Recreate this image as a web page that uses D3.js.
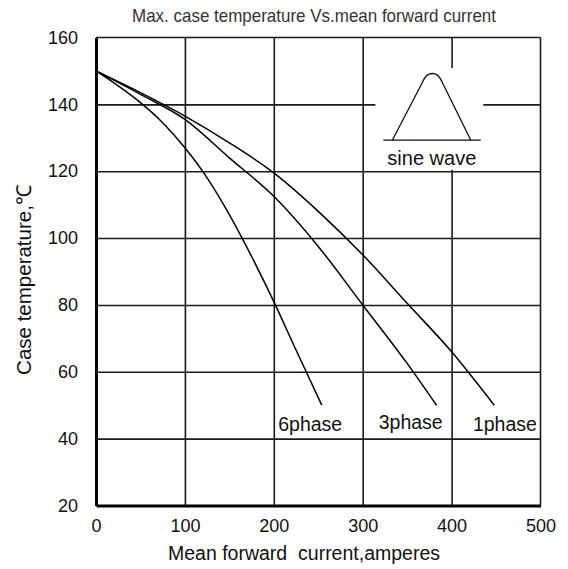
<!DOCTYPE html>
<html>
<head>
<meta charset="utf-8">
<script src="https://cdn.jsdelivr.net/npm/d3@7"></script>
<style>
  body { margin: 0; background: #fff; }
  svg { display: block; }
  text { font-family: "Liberation Sans", Arial, sans-serif; }
</style>
</head>
<body>
<svg id="chart" width="568" height="569"></svg>
<script>
// Axis ticks
const xTicks = [0, 100, 200, 300, 400, 500];
const yTicks = [20, 40, 60, 80, 100, 120, 140, 160];

// Derating curves: mean forward current (A) vs max case temperature (°C)
const current1 = [0, 50, 100, 150, 200, 250, 300, 350, 400, 448];
const temp1    = [150, 143.5, 136.5, 128.5, 119.5, 108, 95, 80.5, 66, 50];
const current3 = [0, 50, 100, 150, 200, 250, 300, 350, 383];
const temp3    = [150, 143, 135.5, 124, 112.5, 97.5, 80, 62.5, 50];
const current6 = [0, 25, 50, 75, 100, 125, 150, 175, 200, 225, 254];
const temp6    = [150, 145.5, 140.5, 134.5, 127, 118, 107, 94.5, 81, 66.5, 50];
const seriesNames = ["1phase", "3phase", "6phase"];

const W = 568, H = 569;
const m = { left: 96, right: 27.5, top: 37.5, bottom: 63.5 };
const svg = d3.select("#chart");

const x = d3.scaleLinear().domain([0, 500]).range([m.left, W - m.right]);
const y = d3.scaleLinear().domain([20, 160]).range([H - m.bottom, m.top]);

// grid
const grid = svg.append("g");
grid.append("g")
  .attr("transform", `translate(0,${m.top})`)
  .call(d3.axisBottom(x).tickValues(xTicks.slice(1, -1)).tickSize(y(20) - m.top).tickFormat(""))
  .call(g => g.select(".domain").remove())
  .selectAll("line").attr("stroke", "#1a1a1a").attr("stroke-width", 1.6);
grid.append("g")
  .attr("transform", `translate(${m.left},0)`)
  .call(d3.axisRight(y).tickValues(yTicks.slice(1, -1)).tickSize(x(500) - m.left).tickFormat(""))
  .call(g => g.select(".domain").remove())
  .selectAll("line").attr("stroke", "#1a1a1a").attr("stroke-width", 1.6);

// frame: top/right thin, left/bottom heavy
svg.append("line").attr("x1", x(0)).attr("x2", x(500)).attr("y1", y(160)).attr("y2", y(160))
  .attr("stroke", "#1a1a1a").attr("stroke-width", 1.6);
svg.append("line").attr("x1", x(500)).attr("x2", x(500)).attr("y1", y(160)).attr("y2", y(20))
  .attr("stroke", "#1a1a1a").attr("stroke-width", 1.6);

// inset legend with a sine-wave glyph
const cx = x(380), gy = y(120);
svg.append("rect").attr("x", cx - 58.5).attr("y", 68).attr("width", 108).attr("height", gy - 69.5)
  .style("fill", "#fff");
const base = gy - 31, peak = 73.5;
svg.append("line").attr("x1", cx - 50.5).attr("x2", cx + 47).attr("y1", base).attr("y2", base)
  .attr("stroke", "#111").attr("stroke-width", 1.3);
svg.append("path")
  .attr("d", `M${cx - 41.5},${base} L${cx - 12},${peak + 10} C${cx - 8},${peak + 1} ${cx - 5},${peak} ${cx - 1.5},${peak}
              C${cx + 2},${peak} ${cx + 5},${peak + 1} ${cx + 9},${peak + 10} L${cx + 37},${base}`)
  .attr("fill", "none").attr("stroke", "#111").attr("stroke-width", 1.3);
svg.append("text").attr("x", cx - 2).attr("y", gy - 6).attr("text-anchor", "middle")
  .style("font-size", "20px").style("fill", "#111").text("sine wave");

// axes with labels
svg.append("g")
  .attr("transform", `translate(0,${y(20)})`)
  .call(d3.axisBottom(x).tickValues(xTicks).tickSize(0).tickPadding(14).tickSizeOuter(0))
  .call(g => g.select(".domain").attr("stroke", "#000").attr("stroke-width", 3))
  .call(g => g.selectAll("text").style("font-size", "18px").style("fill", "#111"));
svg.append("g")
  .attr("transform", `translate(${x(0)},0)`)
  .call(d3.axisLeft(y).tickValues(yTicks).tickSize(0).tickPadding(18).tickSizeOuter(0))
  .call(g => g.select(".domain").attr("stroke", "#000").attr("stroke-width", 3))
  .call(g => g.selectAll("text").style("font-size", "18px").style("fill", "#111"));

// curves
const series = [
  { name: seriesNames[0], xs: current1, ys: temp1, lx: 424, ly: 42.2 },
  { name: seriesNames[1], xs: current3, ys: temp3, lx: 318, ly: 42.8 },
  { name: seriesNames[2], xs: current6, ys: temp6, lx: 205, ly: 42.4 }
];
const line = d3.line().x(d => x(d[0])).y(d => y(d[1])).curve(d3.curveMonotoneX);
svg.append("g").selectAll("path").data(series).join("path")
  .attr("d", s => line(s.xs.map((v, i) => [v, s.ys[i]])))
  .attr("fill", "none").attr("stroke", "#000").attr("stroke-width", 1.5);
svg.append("g").selectAll("text").data(series).join("text")
  .attr("x", s => x(s.lx)).attr("y", s => y(s.ly))
  .style("font-size", "19.5px").style("fill", "#111").text(s => s.name);

// titles
svg.append("text").attr("x", 132).attr("y", 22).attr("textLength", 364).attr("lengthAdjust", "spacingAndGlyphs")
  .style("font-size", "19px").style("fill", "#333")
  .text("Max. case temperature  Vs.mean forward current");
svg.append("text").attr("x", 304).attr("y", 560).attr("text-anchor", "middle")
  .style("font-size", "19.5px").style("white-space", "pre").style("fill", "#111")
  .text("Mean forward  current,amperes");
svg.append("text").attr("transform", "translate(31,280) rotate(-90)").attr("text-anchor", "middle")
  .style("font-size", "20.5px").style("fill", "#111").text("Case temperature,℃");
</script>
</body>
</html>
